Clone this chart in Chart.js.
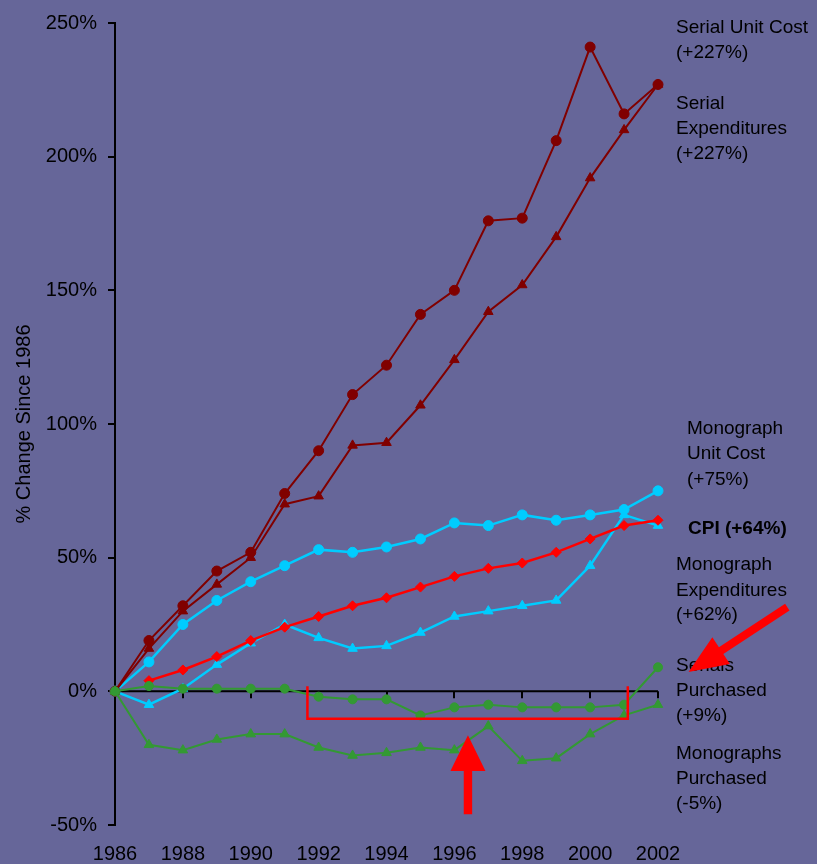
<!DOCTYPE html>
<html>
<head>
<meta charset="utf-8">
<script src="https://cdn.jsdelivr.net/npm/chart.js@4"></script>
<style>
  html, body { margin: 0; padding: 0; background: #666699; }
  #wrap { width: 817px; height: 864px; position: relative; }
</style>
</head>
<body>
<div id="wrap"><canvas id="c" width="817" height="864"></canvas></div>
<script>
// Percentage change since 1986, one value per year
const years = [1986, 1987, 1988, 1989, 1990, 1991, 1992, 1993, 1994, 1995, 1996, 1997, 1998, 1999, 2000, 2001, 2002];

const serialUnitCost        = [0, 19, 32, 45, 52, 74, 90, 111, 122, 141, 150, 176, 177, 206, 241, 216, 227];
const serialExpenditures    = [0, 16, 30, 40, 50, 70, 73, 92, 93, 107, 124, 142, 152, 170, 192, 210, 227];
const monographUnitCost     = [0, 11, 25, 34, 41, 47, 53, 52, 54, 57, 63, 62, 66, 64, 66, 68, 75];
const cpi                   = [null, 4, 8, 13, 19, 24, 28, 32, 35, 39, 43, 46, 48, 52, 57, 62, 64];
const monographExpenditures = [0, -5, 1, 10, 18, 25, 20, 16, 17, 22, 28, 30, 32, 34, 47, 66, 62];
const serialsPurchased      = [0, 2, 1, 1, 1, 1, -2, -3, -3, -9, -6, -5, -6, -6, -6, -5, 9];
const monographsPurchased   = [0, -20, -22, -18, -16, -16, -21, -24, -23, -21, -22, -13, -26, -25, -16, -9, -5];

const yTicks = [-50, 0, 50, 100, 150, 200, 250];
const xTicks = [1986, 1988, 1990, 1992, 1994, 1996, 1998, 2000, 2002];

const FONT = '"Liberation Sans", Arial, sans-serif';
const BG = '#666699';

function pts(arr) {
  return years.map((y, i) => ({ x: y, y: arr[i] }));
}

// Labels to the right of the plot: [text, x, y, bold]
const sideLabels = [
  ['Serial Unit Cost', 676, 28, false],
  ['(+227%)', 676, 53, false],
  ['Serial', 676, 104, false],
  ['Expenditures', 676, 129, false],
  ['(+227%)', 676, 154, false],
  ['Monograph', 687, 429, false],
  ['Unit Cost', 687, 454, false],
  ['(+75%)', 687, 480, false],
  ['CPI (+64%)', 688, 529, true],
  ['Monograph', 676, 565, false],
  ['Expenditures', 676, 591, false],
  ['(+62%)', 676, 615, false],
  ['Serials', 676, 666, false],
  ['Purchased', 676, 691, false],
  ['(+9%)', 676, 716, false],
  ['Monographs', 676, 754, false],
  ['Purchased', 676, 779, false],
  ['(-5%)', 676, 804, false]
];

// Highlight marks in data units (year, percent)
const bracket = { x0: 1991.67, x1: 2001.11, top: 1.9, bottom: -10.3 };
const upArrow = { x: 1996.4, tip: -16.4, headBase: -29.8, tail: -46.0, headHalf: 17.5, shaftHalf: 4.2 };
const diagArrow = { tailX: 2005.81, tailY: 31.5, tipX: 2002.9, tipY: 7.2, headLen: 39, headHalf: 16, shaftHalf: 4 };

const background = {
  id: 'background',
  beforeDraw(chart) {
    const ctx = chart.ctx;
    ctx.save();
    ctx.fillStyle = BG;
    ctx.fillRect(0, 0, chart.width, chart.height);
    ctx.restore();
  }
};

// Horizontal axis line at 0% with downward tick marks
const zeroLine = {
  id: 'zeroLine',
  beforeDatasetsDraw(chart) {
    const { ctx, scales: { x, y } } = chart;
    const y0 = y.getPixelForValue(0);
    ctx.save();
    ctx.strokeStyle = '#000';
    ctx.lineWidth = 2;
    ctx.beginPath();
    ctx.moveTo(x.getPixelForValue(1986), y0);
    ctx.lineTo(x.getPixelForValue(2002), y0);
    xTicks.forEach(t => {
      if (t === 1986) return;
      const px = Math.round(x.getPixelForValue(t));
      ctx.moveTo(px, y0);
      ctx.lineTo(px, y0 + 7);
    });
    ctx.stroke();
    ctx.restore();
  }
};

const annotations = {
  id: 'annotations',
  afterDatasetsDraw(chart) {
    const { ctx, scales: { x, y } } = chart;
    ctx.save();

    // series labels
    ctx.fillStyle = '#000';
    ctx.textBaseline = 'middle';
    ctx.textAlign = 'left';
    sideLabels.forEach(([t, lx, ly, bold]) => {
      ctx.font = (bold ? 'bold ' : '') + '19px ' + FONT;
      ctx.fillText(t, lx, ly);
    });

    // bracket under the flat stretch of serial purchases
    ctx.strokeStyle = '#ff0000';
    ctx.lineWidth = 2.5;
    ctx.beginPath();
    ctx.moveTo(x.getPixelForValue(bracket.x0), y.getPixelForValue(bracket.top));
    ctx.lineTo(x.getPixelForValue(bracket.x0), y.getPixelForValue(bracket.bottom));
    ctx.lineTo(x.getPixelForValue(bracket.x1), y.getPixelForValue(bracket.bottom));
    ctx.lineTo(x.getPixelForValue(bracket.x1), y.getPixelForValue(bracket.top));
    ctx.stroke();

    ctx.fillStyle = '#ff0000';

    // upward arrow
    const ux = x.getPixelForValue(upArrow.x);
    const uTip = y.getPixelForValue(upArrow.tip);
    const uBase = y.getPixelForValue(upArrow.headBase);
    const uTail = y.getPixelForValue(upArrow.tail);
    ctx.beginPath();
    ctx.moveTo(ux, uTip);
    ctx.lineTo(ux + upArrow.headHalf, uBase);
    ctx.lineTo(ux + upArrow.shaftHalf, uBase);
    ctx.lineTo(ux + upArrow.shaftHalf, uTail);
    ctx.lineTo(ux - upArrow.shaftHalf, uTail);
    ctx.lineTo(ux - upArrow.shaftHalf, uBase);
    ctx.lineTo(ux - upArrow.headHalf, uBase);
    ctx.closePath();
    ctx.fill();

    // diagonal arrow pointing at the serials label
    const tx = x.getPixelForValue(diagArrow.tailX), ty = y.getPixelForValue(diagArrow.tailY);
    const px = x.getPixelForValue(diagArrow.tipX), py = y.getPixelForValue(diagArrow.tipY);
    const dx = px - tx, dy = py - ty;
    const len = Math.hypot(dx, dy);
    const ux2 = dx / len, uy2 = dy / len;
    const nx = -uy2, ny = ux2;
    const bx = px - ux2 * diagArrow.headLen, by = py - uy2 * diagArrow.headLen;
    ctx.beginPath();
    ctx.moveTo(px, py);
    ctx.lineTo(bx + nx * diagArrow.headHalf, by + ny * diagArrow.headHalf);
    ctx.lineTo(bx + nx * diagArrow.shaftHalf, by + ny * diagArrow.shaftHalf);
    ctx.lineTo(tx + nx * diagArrow.shaftHalf, ty + ny * diagArrow.shaftHalf);
    ctx.lineTo(tx - nx * diagArrow.shaftHalf, ty - ny * diagArrow.shaftHalf);
    ctx.lineTo(bx - nx * diagArrow.shaftHalf, by - ny * diagArrow.shaftHalf);
    ctx.lineTo(bx - nx * diagArrow.headHalf, by - ny * diagArrow.headHalf);
    ctx.closePath();
    ctx.fill();

    ctx.restore();
  }
};

// lower order draws on top
function series(label, data, color, style, radius, width, order) {
  return {
    label,
    data: pts(data),
    borderColor: color,
    backgroundColor: color,
    pointBackgroundColor: color,
    pointBorderColor: color,
    pointStyle: style,
    pointRadius: radius,
    pointBorderWidth: 1,
    borderWidth: width,
    tension: 0,
    spanGaps: false,
    clip: false,
    order
  };
}

new Chart(document.getElementById('c'), {
  type: 'line',
  data: {
    datasets: [
      series('Serial Unit Cost', serialUnitCost, '#800000', 'circle', 5, 2, 2),
      series('Serial Expenditures', serialExpenditures, '#800000', 'triangle', 5.5, 2, 3),
      series('CPI', cpi, '#ff0000', 'rectRot', 5, 2.5, 4),
      series('Monograph Unit Cost', monographUnitCost, '#00ccff', 'circle', 5, 2.5, 5),
      series('Monograph Expenditures', monographExpenditures, '#00ccff', 'triangle', 5.5, 2.5, 6),
      series('Serials Purchased', serialsPurchased, '#339933', 'circle', 4.5, 2, 0),
      series('Monographs Purchased', monographsPurchased, '#339933', 'triangle', 5.5, 2, 1)
    ]
  },
  options: {
    responsive: false,
    animation: false,
    layout: { padding: { top: 22, right: 159, bottom: 0, left: 0 } },
    plugins: {
      legend: { display: false },
      tooltip: { enabled: false }
    },
    scales: {
      x: {
        type: 'linear',
        min: 1986,
        max: 2002,
        afterBuildTicks(scale) { scale.ticks = xTicks.map(v => ({ value: v })); },
        afterFit(scale) { scale.height = 39; },
        grid: { display: true, drawOnChartArea: false, drawTicks: false, color: 'rgba(0,0,0,0)' },
        border: { display: false },
        ticks: {
          padding: 17,
          color: '#000',
          font: { family: FONT, size: 20 },
          maxRotation: 0,
          autoSkip: false,
          callback: v => String(v)
        }
      },
      y: {
        type: 'linear',
        min: -50,
        max: 250,
        afterBuildTicks(scale) { scale.ticks = yTicks.map(v => ({ value: v })); },
        afterFit(scale) { scale.width = 115; },
        grid: { display: true, drawOnChartArea: false, drawTicks: true, tickLength: 7, color: '#000', lineWidth: 2 },
        border: { display: true, color: '#000', width: 2 },
        ticks: {
          padding: 11,
          color: '#000',
          font: { family: FONT, size: 20 },
          callback: v => v + '%'
        },
        title: {
          display: true,
          text: '% Change Since 1986',
          color: '#000',
          font: { family: FONT, size: 20 },
          padding: { top: 12, bottom: 0 }
        }
      }
    }
  },
  plugins: [background, zeroLine, annotations]
});
</script>
</body>
</html>
